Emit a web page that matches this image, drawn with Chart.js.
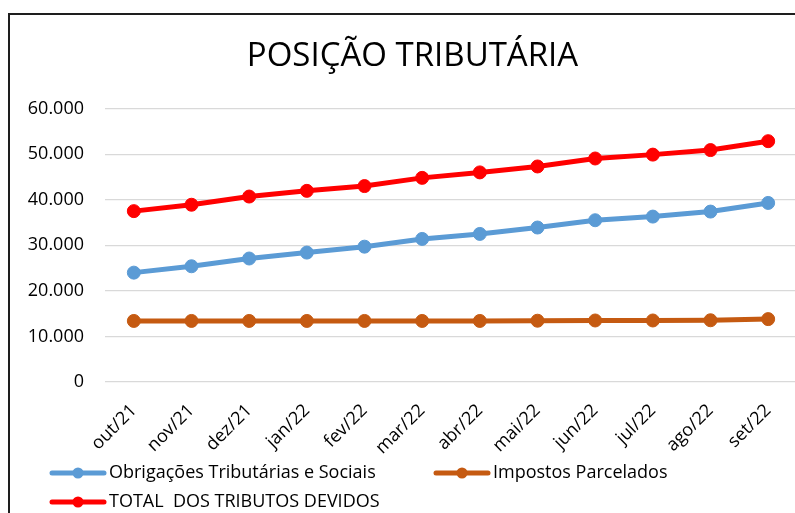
<!DOCTYPE html>
<html>
<head>
<meta charset="utf-8">
<script src="https://cdn.jsdelivr.net/npm/chart.js@4.4.1/dist/chart.umd.min.js"></script>
<style>
  html, body { margin: 0; padding: 0; background: #fff; overflow: hidden; width: 795px; height: 513px; }
  #wrap { position: absolute; left: 0; top: 0; width: 830px; height: 513px; }
  #frame { position: absolute; left: 8px; top: 13px; width: 900px; height: 600px; border: 2px solid #1e1e1e; box-sizing: border-box; pointer-events: none; }
</style>
</head>
<body>
<div id="frame"></div>
<div id="wrap"><canvas id="c" width="830" height="513"></canvas></div>
<script>
const titleText = 'POSIÇÃO TRIBUTÁRIA';
const categories = ['out/21','nov/21','dez/21','jan/22','fev/22','mar/22','abr/22','mai/22','jun/22','jul/22','ago/22','set/22'];
const obrigacoes = [24000, 25400, 27100, 28400, 29700, 31400, 32500, 33900, 35500, 36300, 37400, 39300];
const parcelados = [13400, 13400, 13400, 13400, 13400, 13400, 13400, 13450, 13500, 13500, 13550, 13800];
const total = [37500, 38900, 40700, 41950, 43000, 44800, 46000, 47300, 49050, 49900, 50900, 52850];
const seriesNames = ['Obrigações Tributárias e Sociais', 'Impostos Parcelados', 'TOTAL  DOS TRIBUTOS DEVIDOS'];
const yTicks = [0, 10000, 20000, 30000, 40000, 50000, 60000];

const FONT = "'Open Sans', 'Noto Sans', sans-serif";
const colors = ['#5B9BD5', '#C55A11', '#FF0000'];

function fmt(v) {
  return v === 0 ? '0' : v.toLocaleString('de-DE');
}

const customLegend = {
  id: 'customLegend',
  afterDraw(chart) {
    const ctx = chart.ctx;
    const H = chart.height;
    const items = [
      { i: 0, x: 50, y: H - 40 },
      { i: 1, x: 434, y: H - 40 },
      { i: 2, x: 50, y: H - 11 }
    ];
    ctx.save();
    items.forEach(it => {
      const ds = chart.data.datasets[it.i];
      ctx.strokeStyle = ds.borderColor;
      ctx.lineWidth = 5;
      ctx.lineCap = 'round';
      ctx.beginPath();
      ctx.moveTo(it.x + 2, it.y);
      ctx.lineTo(it.x + 54, it.y);
      ctx.stroke();
      ctx.fillStyle = ds.borderColor;
      ctx.beginPath();
      ctx.arc(it.x + 28, it.y, 5.5, 0, Math.PI * 2);
      ctx.fill();
      ctx.fillStyle = '#000';
      ctx.font = "18px " + FONT;
      ctx.textAlign = 'left';
      ctx.textBaseline = 'middle';
      ctx.fillText(ds.label, it.x + 59, it.y);
    });
    ctx.restore();
  }
};

const mk = (label, data, color, order) => ({
  label, data,
  borderColor: color, backgroundColor: color,
  pointBackgroundColor: color, pointBorderColor: color,
  borderWidth: 5, pointRadius: 6.5, pointBorderWidth: 1, pointHoverRadius: 6.5,
  tension: 0, order
});

new Chart(document.getElementById('c'), {
  type: 'line',
  data: {
    labels: categories,
    datasets: [
      mk(seriesNames[0], obrigacoes, colors[0], 2),
      mk(seriesNames[1], parcelados, colors[1], 1),
      mk(seriesNames[2], total, colors[2], 0)
    ]
  },
  options: {
    responsive: false,
    animation: false,
    devicePixelRatio: 1,
    layout: { padding: { left: 28, right: 33, top: 0, bottom: 51 } },
    plugins: {
      legend: { display: false },
      tooltip: { enabled: false },
      title: {
        display: true,
        text: titleText,
        color: '#000',
        font: { family: FONT, size: 33, weight: 'normal' },
        padding: { top: 37, bottom: 32 }
      }
    },
    scales: {
      x: {
        offset: true,
        grid: { display: false, drawTicks: false },
        border: { display: false },
        ticks: {
          color: '#000', font: { family: FONT, size: 18 },
          maxRotation: 45, minRotation: 45, padding: 18, autoSkip: false
        },
        afterFit(scale) { scale.height = 80; }
      },
      y: {
        min: 0, max: 60000,
        afterBuildTicks(scale) { scale.ticks = yTicks.map(v => ({ value: v })); },
        grid: { color: '#d9d9d9', lineWidth: 1.3, drawTicks: false },
        border: { display: false },
        ticks: {
          color: '#000', font: { family: FONT, size: 18 }, padding: 21,
          callback: (v) => fmt(v)
        },
        afterFit(scale) { scale.width = 77; }
      }
    }
  },
  plugins: [customLegend]
});
</script>
</body>
</html>
